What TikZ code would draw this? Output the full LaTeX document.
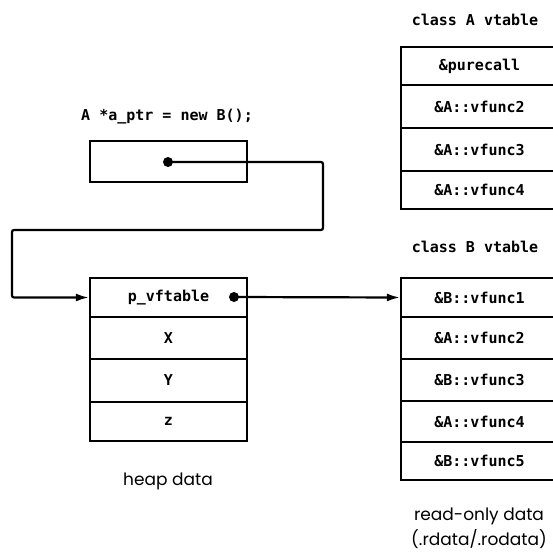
\documentclass[tikz,border=0pt]{standalone}
\usepackage{fontspec}
\newfontfamily\monof{DejaVu Sans Mono}
\newfontfamily\geof{Poppins}
\usetikzlibrary{arrows.meta}
\tikzset{
  monotext/.style={font=\monof\bfseries\fontsize{15}{18}\selectfont},
  cell/.style={draw, line width=2.2pt, minimum width=157pt, inner sep=0pt, monotext},
  lbl/.style={inner sep=0pt, monotext},
  captext/.style={inner sep=0pt, font=\geof\fontsize{17}{25}\selectfont, align=center},
  dotm/.style={circle, fill, inner sep=0pt, minimum size=10pt},
  link/.style={line width=2.2pt, -{Latex[length=13pt,width=8pt]}},
}
\begin{document}
\begin{tikzpicture}[x=1pt,y=-1pt]
\useasboundingbox (0,0) rectangle (553,556);
% pointer variable
\node[lbl] (decl) at (167,117) {A *a\_ptr = new B();};
\node[cell, minimum height=41pt] (ptr) at (168.5,161.5) {};
\node[dotm] (pdot) at (168,162) {};
% heap object
\node[cell, minimum height=39pt] (h1) at (168.5,297.5) {p\_vftable};
\node[cell, minimum height=42pt] (h2) at (168.5,338) {X};
\node[cell, minimum height=43pt] (h3) at (168.5,380.5) {Y};
\node[cell, minimum height=39pt] (h4) at (168.5,421.5) {z};
\node[dotm] (hdot) at (234,297) {};
\node[captext] (heap) at (168,481) {heap data};
% class A vtable
\node[lbl] (alab) at (475,20) {class A vtable};
\node[cell, minimum height=38pt] (a1) at (479.5,66) {\&purecall};
\node[cell, minimum height=43pt] (a2) at (479.5,106.5) {\&A::vfunc2};
\node[cell, minimum height=43pt] (a3) at (479.5,149.5) {\&A::vfunc3};
\node[cell, minimum height=38pt] (a4) at (479.5,190) {\&A::vfunc4};
% class B vtable
\node[lbl] (blab) at (475,247) {class B vtable};
\node[cell, minimum height=39pt] (b1) at (479.5,297.5) {\&B::vfunc1};
\node[cell, minimum height=42pt] (b2) at (479.5,338) {\&A::vfunc2};
\node[cell, minimum height=42pt] (b3) at (479.5,380) {\&B::vfunc3};
\node[cell, minimum height=41pt] (b4) at (479.5,421.5) {\&A::vfunc4};
\node[cell, minimum height=38pt] (b5) at (479.5,461) {\&B::vfunc5};
\node[captext] (ro) at (479,528) {read-only data\\(.rdata/.rodata)};
% connectors
\coordinate (k1) at (323,230);
\coordinate (k2) at (12,230);
\draw[link, rounded corners=2pt] (pdot.center) -| (k1) -- (k2) |- (h1.west);
\draw[link] (hdot.center) -- (b1.west);
\end{tikzpicture}
\end{document}
